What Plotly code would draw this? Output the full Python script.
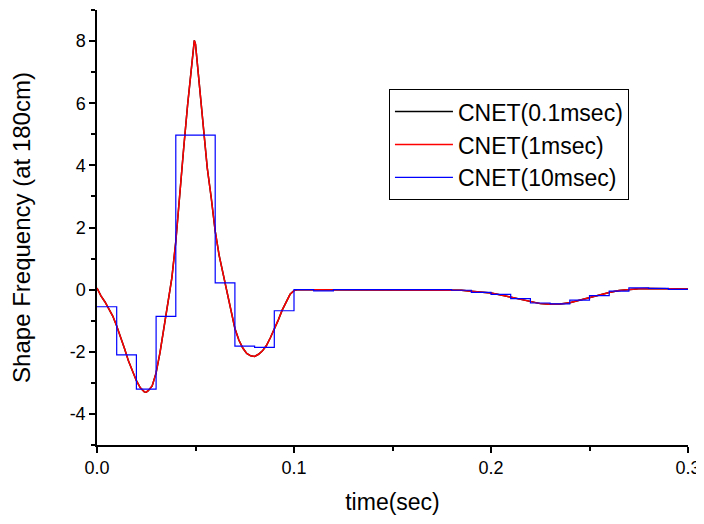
import plotly.graph_objects as go

# ---- data ----
# fine-resolution curve (time in msec, value)
t_fine_ms = [0, 2, 4, 6, 8, 10, 12, 14, 16, 18, 20, 22, 24, 25, 26, 28, 30, 32, 34, 36,
             38, 40, 42, 44, 46, 48, 49.4, 50, 52, 54, 56, 58, 60, 62, 64, 66, 68, 70,
             72, 74, 76, 78, 80, 82, 84, 86, 88, 90, 92, 94, 96, 98, 100, 102, 110,
             120, 140, 160, 180, 185, 190, 195, 200, 205, 210, 215, 220, 225, 230,
             235, 240, 245, 250, 255, 260, 265, 270, 275, 280, 290, 300]
shape_fine = [0.05, -0.20, -0.39, -0.60, -0.85, -1.17, -1.52, -1.90, -2.30, -2.65, -2.93,
              -3.16, -3.29, -3.30, -3.25, -3.10, -2.68, -2.02, -1.20, -0.50,
              0.38, 1.55, 3.15, 4.55, 5.95, 7.15, 8.02, 7.90, 6.60, 5.20, 3.90, 2.95,
              1.88, 1.10, 0.50, -0.12, -0.75, -1.25,
              -1.62, -1.88, -2.05, -2.13, -2.15, -2.08, -1.97, -1.80, -1.55, -1.28,
              -0.98, -0.66, -0.38, -0.15, -0.03, 0.0, 0.0,
              0.0, 0.0, 0.0, 0.0, -0.02, -0.05, -0.08, -0.11, -0.17, -0.24, -0.32, -0.40,
              -0.45, -0.47, -0.46, -0.42, -0.34, -0.24, -0.16, -0.09, -0.03, 0.01, 0.03,
              0.04, 0.03, 0.02]

# 10 msec step series
t_blue_ms = [0, 10, 20, 30, 40, 50, 60, 70, 80, 90, 100, 110, 120, 130, 140, 150, 160,
             170, 180, 190, 200, 210, 220, 230, 240, 250, 260, 270, 280, 290, 300]
shape_blue = [-0.55, -2.10, -3.20, -0.86, 4.97, 4.97, 0.22, -1.82, -1.86, -0.68, 0.00,
              -0.04, 0.00, 0.00, 0.00, 0.00, 0.00, 0.00, -0.02, -0.09, -0.15, -0.29,
              -0.43, -0.46, -0.34, -0.19, -0.05, 0.06, 0.04, 0.01, 0.01]

series_names = ["CNET(0.1msec)", "CNET(1msec)", "CNET(10msec)"]
x_ticks = [0.0, 0.1, 0.2, 0.3]
x_tick_text = ["0.0", "0.1", "0.2", "0.3"]
y_ticks = [-4, -2, 0, 2, 4, 6, 8]
y_tick_text = ["-4", "-2", "0", "2", "4", "6", "8"]

t_fine = [v / 1000 for v in t_fine_ms]
t_blue = [v / 1000 for v in t_blue_ms]

FONT = "Arial, 'Liberation Sans', sans-serif"

fig = go.Figure()
fig.add_trace(go.Scatter(x=t_fine, y=shape_fine, mode="lines", name=series_names[0],
                         line=dict(color="#000000", width=1.5)))
fig.add_trace(go.Scatter(x=t_fine, y=shape_fine, mode="lines", name=series_names[1],
                         line=dict(color="#FF0000", width=1.5)))
fig.add_trace(go.Scatter(x=t_blue, y=shape_blue, mode="lines", name=series_names[2],
                         line=dict(color="#0000FF", width=1.2, shape="hv")))

axis_common = dict(
    showgrid=False, zeroline=False, showline=True, linecolor="black", linewidth=1.5,
    ticks="outside", ticklen=6, tickwidth=1.5, tickcolor="black", automargin=False,
    tickfont=dict(family=FONT, size=18, color="black"),
)

# the page adds an 8px body margin, so the figure is sized to fit inside it
fig.update_layout(
    width=696, height=508,
    margin=dict(l=89, r=16, t=2, b=71),
    paper_bgcolor="white", plot_bgcolor="white",
    font=dict(family=FONT, color="black"),
    xaxis=dict(range=[0, 0.3], tickvals=x_ticks, ticktext=x_tick_text,
               minor=dict(tickvals=[0.05, 0.15, 0.25], ticks="outside", ticklen=4,
                          tickwidth=1.5, tickcolor="black"),
               title=dict(text="time(sec)", font=dict(family=FONT, size=23), standoff=17),
               **axis_common),
    yaxis=dict(range=[-5, 9], tickvals=y_ticks, ticktext=y_tick_text,
               minor=dict(tickvals=[-5, -3, -1, 1, 3, 5, 7, 9], ticks="outside", ticklen=4,
                          tickwidth=1.5, tickcolor="black"),
               title=dict(text="Shape Frequency (at 180cm)", font=dict(family=FONT, size=24),
                          standoff=36),
               **axis_common),
    legend=dict(x=0.494, y=0.818, xanchor="left", yanchor="top",
                bgcolor="white", bordercolor="black", borderwidth=1,
                font=dict(family=FONT, size=23, color="black"),
                tracegroupgap=0, itemwidth=58),
    showlegend=True,
)

fig.write_html("out.html")
